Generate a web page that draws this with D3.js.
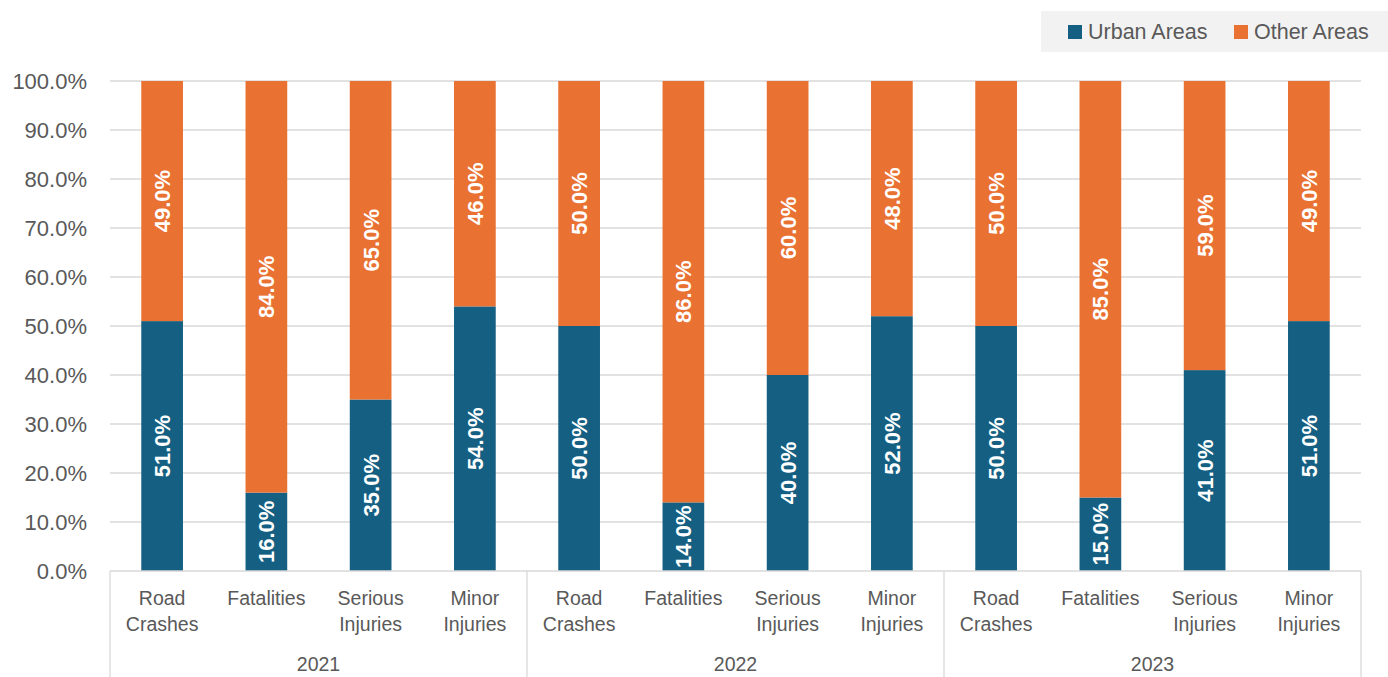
<!DOCTYPE html>
<html>
<head>
<meta charset="utf-8">
<script src="https://cdn.jsdelivr.net/npm/d3@7"></script>
<style>
  html, body { margin: 0; padding: 0; background: #fff; }
  svg { display: block; font-family: "Liberation Sans", Arial, sans-serif; }
</style>
</head>
<body>
<svg id="chart" width="1388" height="677"></svg>
<script>
// Share of crashes and casualties in urban vs other areas, by year
const years = ["2021", "2022", "2023"];
const measures = [["Road", "Crashes"], ["Fatalities"], ["Serious", "Injuries"], ["Minor", "Injuries"]];
const urbanShare = [51, 16, 35, 54, 50, 14, 40, 52, 50, 15, 41, 51];
const otherShare = [49, 84, 65, 46, 50, 86, 60, 48, 50, 85, 59, 49];
const yTicks = [0, 10, 20, 30, 40, 50, 60, 70, 80, 90, 100];
const seriesNames = ["Urban Areas", "Other Areas"];
const colors = ["#156082", "#E97132"];

const svg = d3.select("#chart");
const plotLeft = 110, plotRight = 1361, plotTop = 81, plotBottom = 571;

const rows = [];
years.forEach((yr, gi) => measures.forEach((m, mi) => {
  const i = gi * measures.length + mi;
  rows.push({ key: yr + "|" + mi, year: yr, label: m, urban: urbanShare[i], other: otherShare[i] });
}));

const x = d3.scaleBand().domain(rows.map(d => d.key)).range([plotLeft, plotRight]).paddingInner(0.6).paddingOuter(0.3);
const y = d3.scaleLinear().domain([0, 100]).range([plotBottom, plotTop]);

// gridlines
svg.append("g").selectAll("line").data(yTicks.filter(t => t > 0)).join("line")
  .attr("x1", plotLeft).attr("x2", plotRight)
  .attr("y1", d => y(d)).attr("y2", d => y(d))
  .attr("stroke", "#d9d9d9").attr("stroke-width", 1.3);

// y tick labels
svg.append("g").selectAll("text").data(yTicks).join("text")
  .attr("x", 87).attr("y", d => y(d)).attr("dy", "0.36em")
  .attr("text-anchor", "end").attr("fill", "#595959").attr("font-size", 22)
  .text(d => d.toFixed(1) + "%");

// stacked bars
const stack = d3.stack().keys(["urban", "other"])(rows);
const barG = svg.append("g");
stack.forEach((layer, li) => {
  barG.append("g").attr("fill", colors[li]).selectAll("rect").data(layer).join("rect")
    .attr("x", d => x(d.data.key)).attr("width", x.bandwidth())
    .attr("y", d => y(d[1])).attr("height", d => y(d[0]) - y(d[1]));
});

// data labels
stack.forEach((layer) => {
  svg.append("g").selectAll("text").data(layer).join("text")
    .attr("transform", d => {
      const cx = x(d.data.key) + x.bandwidth() / 2;
      const cy = (y(d[0]) + y(d[1])) / 2;
      return `translate(${cx},${cy}) rotate(-90)`;
    })
    .attr("text-anchor", "middle").attr("dy", "0.36em")
    .attr("fill", "#fff").attr("font-weight", "bold").attr("font-size", 22)
    .text(d => (d[1] - d[0]).toFixed(1) + "%");
});

// category axis
const axisColor = "#d9d9d9";
svg.append("line").attr("x1", plotLeft).attr("x2", plotRight).attr("y1", plotBottom).attr("y2", plotBottom)
  .attr("stroke", axisColor).attr("stroke-width", 1.3);
const groupW = (plotRight - plotLeft) / years.length;
d3.range(years.length + 1).forEach(i => {
  svg.append("line").attr("x1", plotLeft + i * groupW).attr("x2", plotLeft + i * groupW)
    .attr("y1", plotBottom).attr("y2", 677).attr("stroke", axisColor).attr("stroke-width", 1.3);
});

const catLabels = svg.append("g").selectAll("text").data(rows).join("text")
  .attr("x", d => x(d.key) + x.bandwidth() / 2)
  .attr("y", 605).attr("text-anchor", "middle").attr("fill", "#595959").attr("font-size", 19.5);
catLabels.each(function(d) {
  d3.select(this).selectAll("tspan").data(d.label).join("tspan")
    .attr("x", x(d.key) + x.bandwidth() / 2).attr("dy", (t, i) => i === 0 ? 0 : 26).text(t => t);
});

svg.append("g").selectAll("text").data(years).join("text")
  .attr("x", (d, i) => plotLeft + groupW * (i + 0.5)).attr("y", 671)
  .attr("text-anchor", "middle").attr("fill", "#595959").attr("font-size", 19.5)
  .text(d => d);

// legend
const legend = svg.append("g");
legend.append("rect").attr("x", 1041).attr("y", 11).attr("width", 347).attr("height", 41).attr("fill", "#f2f2f2");
const legX = [1068, 1234];
seriesNames.forEach((name, i) => {
  legend.append("rect").attr("x", legX[i]).attr("y", 25).attr("width", 14).attr("height", 14).attr("fill", colors[i]);
  legend.append("text").attr("x", legX[i] + 20).attr("y", 31).attr("dy", "0.36em")
    .attr("fill", "#595959").attr("font-size", 21.5).text(name);
});
</script>
</body>
</html>
